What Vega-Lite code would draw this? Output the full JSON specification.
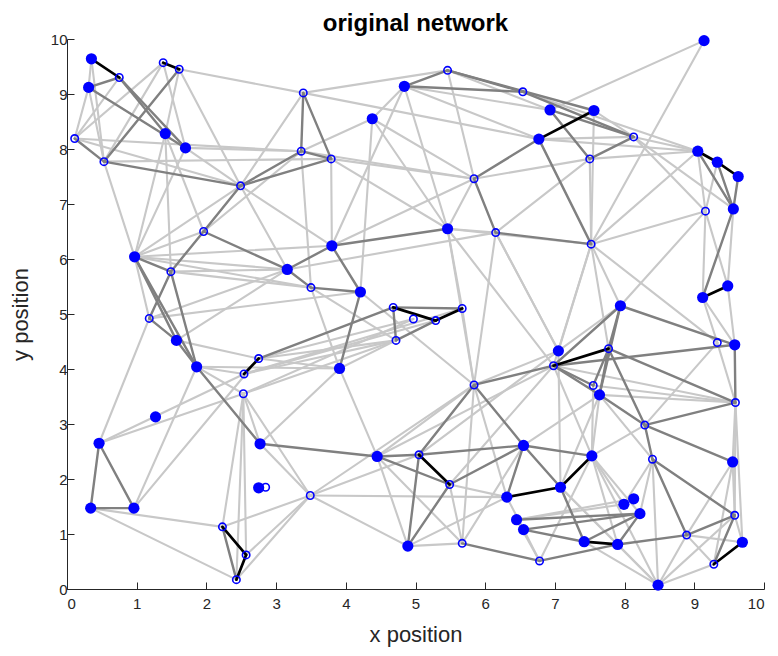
{
  "$schema": "https://vega.github.io/schema/vega-lite/v6.json",
  "width": 697,
  "height": 550,
  "autosize": "none",
  "padding": {"left": 67, "top": 39, "right": 14, "bottom": 67},
  "background": "white",
  "title": {"text": "original network", "fontSize": 24, "fontWeight": "bold", "font": "Liberation Sans", "color": "#000000", "anchor": "middle", "offset": -4},
  "config": {
    "view": {"stroke": null},
    "axis": {
      "grid": false,
      "domainColor": "#262626",
      "tickColor": "#262626",
      "labelColor": "#262626",
      "titleColor": "#262626",
      "labelFont": "Liberation Sans",
      "titleFont": "Liberation Sans",
      "labelFontSize": 15,
      "titleFontSize": 22,
      "titleFontWeight": "normal",
      "tickSize": -7,
      "domainWidth": 1,
      "tickWidth": 1,
      "format": "d"
    }
  },
  "datasets": {
    "nodes": [
      {"id":1,"x":0.35,"y":9.64,"f":1},{"id":2,"x":0.75,"y":9.30,"f":0},{"id":3,"x":0.31,"y":9.12,"f":1},
      {"id":4,"x":1.38,"y":9.57,"f":0},{"id":5,"x":1.61,"y":9.45,"f":0},{"id":6,"x":1.41,"y":8.28,"f":1},
      {"id":7,"x":1.70,"y":8.02,"f":1},{"id":8,"x":0.11,"y":8.19,"f":0},{"id":9,"x":0.53,"y":7.77,"f":0},
      {"id":10,"x":2.49,"y":7.33,"f":0},{"id":11,"x":3.39,"y":9.02,"f":0},{"id":12,"x":3.36,"y":7.96,"f":0},
      {"id":13,"x":3.79,"y":7.82,"f":0},{"id":14,"x":4.38,"y":8.55,"f":1},{"id":15,"x":4.84,"y":9.14,"f":1},
      {"id":16,"x":5.46,"y":9.43,"f":0},{"id":17,"x":6.54,"y":9.04,"f":0},{"id":18,"x":6.93,"y":8.71,"f":1},
      {"id":19,"x":7.56,"y":8.70,"f":1},{"id":20,"x":6.77,"y":8.18,"f":1},{"id":21,"x":8.13,"y":8.22,"f":0},
      {"id":22,"x":7.50,"y":7.82,"f":0},{"id":23,"x":9.14,"y":9.97,"f":1},{"id":24,"x":9.05,"y":7.96,"f":1},
      {"id":25,"x":9.33,"y":7.76,"f":1},{"id":26,"x":9.63,"y":7.50,"f":1},{"id":27,"x":9.16,"y":6.87,"f":0},
      {"id":28,"x":9.56,"y":6.91,"f":1},{"id":29,"x":5.84,"y":7.46,"f":0},{"id":30,"x":1.96,"y":6.50,"f":0},
      {"id":31,"x":0.97,"y":6.04,"f":1},{"id":32,"x":1.49,"y":5.77,"f":0},{"id":33,"x":1.18,"y":4.92,"f":0},
      {"id":34,"x":1.57,"y":4.52,"f":1},{"id":35,"x":1.86,"y":4.04,"f":1},{"id":36,"x":3.16,"y":5.81,"f":1},
      {"id":37,"x":3.50,"y":5.48,"f":0},{"id":38,"x":3.80,"y":6.24,"f":1},{"id":39,"x":4.21,"y":5.40,"f":1},
      {"id":40,"x":5.46,"y":6.55,"f":1},{"id":41,"x":6.15,"y":6.48,"f":0},{"id":42,"x":7.52,"y":6.27,"f":0},
      {"id":43,"x":4.68,"y":5.12,"f":0},{"id":44,"x":4.97,"y":4.91,"f":0},{"id":45,"x":5.29,"y":4.88,"f":0},
      {"id":46,"x":5.67,"y":5.10,"f":0},{"id":47,"x":4.72,"y":4.52,"f":0},{"id":48,"x":2.75,"y":4.19,"f":0},
      {"id":49,"x":2.54,"y":3.91,"f":0},{"id":50,"x":2.53,"y":3.55,"f":0},{"id":51,"x":3.91,"y":4.01,"f":1},
      {"id":52,"x":9.12,"y":5.30,"f":1},{"id":53,"x":9.48,"y":5.51,"f":1},{"id":54,"x":7.94,"y":5.15,"f":1},
      {"id":55,"x":7.05,"y":4.33,"f":1},{"id":56,"x":7.77,"y":4.37,"f":0},{"id":57,"x":6.98,"y":4.06,"f":0},
      {"id":58,"x":9.33,"y":4.48,"f":0},{"id":59,"x":9.58,"y":4.44,"f":1},{"id":60,"x":5.84,"y":3.71,"f":0},
      {"id":61,"x":7.55,"y":3.70,"f":0},{"id":62,"x":7.64,"y":3.53,"f":1},{"id":63,"x":9.59,"y":3.39,"f":0},
      {"id":64,"x":8.29,"y":2.98,"f":0},{"id":65,"x":0.46,"y":2.65,"f":1},{"id":66,"x":1.27,"y":3.13,"f":1},
      {"id":67,"x":2.77,"y":2.64,"f":1},{"id":68,"x":2.75,"y":1.84,"f":1},{"id":69,"x":2.85,"y":1.85,"f":0},
      {"id":70,"x":0.34,"y":1.47,"f":1},{"id":71,"x":0.96,"y":1.47,"f":1},{"id":72,"x":2.23,"y":1.13,"f":0},
      {"id":73,"x":2.57,"y":0.62,"f":0},{"id":74,"x":2.43,"y":0.17,"f":0},{"id":75,"x":4.45,"y":2.41,"f":1},
      {"id":76,"x":5.05,"y":2.44,"f":0},{"id":77,"x":5.49,"y":1.90,"f":0},{"id":78,"x":3.49,"y":1.70,"f":0},
      {"id":79,"x":4.89,"y":0.78,"f":1},{"id":80,"x":5.67,"y":0.83,"f":0},{"id":81,"x":6.55,"y":2.61,"f":1},
      {"id":82,"x":6.31,"y":1.67,"f":1},{"id":83,"x":6.45,"y":1.26,"f":1},{"id":84,"x":6.55,"y":1.08,"f":1},
      {"id":85,"x":7.53,"y":2.42,"f":1},{"id":86,"x":8.40,"y":2.36,"f":0},{"id":87,"x":9.55,"y":2.31,"f":1},
      {"id":88,"x":7.08,"y":1.85,"f":1},{"id":89,"x":8.13,"y":1.64,"f":1},{"id":90,"x":7.99,"y":1.54,"f":1},
      {"id":91,"x":8.22,"y":1.37,"f":1},{"id":92,"x":9.58,"y":1.34,"f":0},{"id":93,"x":9.69,"y":0.85,"f":1},
      {"id":94,"x":7.42,"y":0.86,"f":1},{"id":95,"x":7.90,"y":0.81,"f":1},{"id":96,"x":8.89,"y":0.98,"f":0},
      {"id":97,"x":9.28,"y":0.45,"f":0},{"id":98,"x":6.78,"y":0.51,"f":0},{"id":99,"x":8.48,"y":0.07,"f":1}
    ],
    "edges": [
      {"s":1,"t":3,"w":"l"},{"s":3,"t":8,"w":"l"},{"s":2,"t":8,"w":"l"},{"s":4,"t":8,"w":"l"},{"s":4,"t":9,"w":"l"},
      {"s":3,"t":9,"w":"l"},{"s":5,"t":6,"w":"l"},{"s":5,"t":10,"w":"l"},{"s":5,"t":11,"w":"l"},{"s":8,"t":12,"w":"l"},
      {"s":8,"t":10,"w":"l"},{"s":9,"t":13,"w":"l"},{"s":7,"t":12,"w":"l"},{"s":7,"t":10,"w":"l"},{"s":9,"t":31,"w":"l"},
      {"s":6,"t":31,"w":"l"},{"s":7,"t":31,"w":"l"},{"s":6,"t":32,"w":"l"},{"s":6,"t":30,"w":"l"},{"s":4,"t":7,"w":"l"},
      {"s":1,"t":9,"w":"l"},{"s":11,"t":16,"w":"l"},{"s":11,"t":20,"w":"l"},{"s":11,"t":10,"w":"l"},{"s":14,"t":15,"w":"l"},
      {"s":14,"t":12,"w":"l"},{"s":14,"t":39,"w":"l"},{"s":15,"t":38,"w":"l"},{"s":15,"t":40,"w":"l"},{"s":15,"t":18,"w":"l"},
      {"s":15,"t":20,"w":"l"},{"s":14,"t":29,"w":"l"},{"s":12,"t":29,"w":"l"},{"s":13,"t":29,"w":"l"},{"s":16,"t":29,"w":"l"},
      {"s":16,"t":18,"w":"l"},{"s":29,"t":40,"w":"l"},{"s":29,"t":38,"w":"l"},{"s":29,"t":22,"w":"l"},{"s":13,"t":38,"w":"l"},
      {"s":12,"t":37,"w":"l"},{"s":10,"t":36,"w":"l"},{"s":10,"t":38,"w":"l"},{"s":10,"t":31,"w":"l"},{"s":30,"t":31,"w":"l"},
      {"s":30,"t":12,"w":"l"},{"s":40,"t":13,"w":"l"},{"s":40,"t":14,"w":"l"},
      {"s":23,"t":18,"w":"l"},{"s":23,"t":42,"w":"l"},{"s":24,"t":21,"w":"l"},{"s":24,"t":22,"w":"l"},{"s":24,"t":27,"w":"l"},
      {"s":25,"t":27,"w":"l"},{"s":24,"t":42,"w":"l"},{"s":21,"t":27,"w":"l"},{"s":21,"t":28,"w":"l"},{"s":22,"t":42,"w":"l"},
      {"s":19,"t":42,"w":"l"},{"s":20,"t":21,"w":"l"},{"s":20,"t":24,"w":"l"},{"s":17,"t":24,"w":"l"},{"s":22,"t":41,"w":"l"},
      {"s":27,"t":52,"w":"l"},{"s":53,"t":27,"w":"l"},{"s":53,"t":28,"w":"l"},{"s":19,"t":21,"w":"l"},
      {"s":31,"t":38,"w":"l"},{"s":31,"t":37,"w":"l"},{"s":31,"t":36,"w":"l"},{"s":32,"t":36,"w":"l"},{"s":32,"t":37,"w":"l"},
      {"s":33,"t":39,"w":"l"},{"s":33,"t":36,"w":"l"},{"s":34,"t":36,"w":"l"},{"s":35,"t":51,"w":"l"},{"s":34,"t":48,"w":"l"},
      {"s":35,"t":50,"w":"l"},{"s":35,"t":49,"w":"l"},{"s":33,"t":65,"w":"l"},{"s":31,"t":33,"w":"l"},
      {"s":36,"t":41,"w":"l"},{"s":39,"t":60,"w":"l"},{"s":37,"t":47,"w":"l"},{"s":47,"t":48,"w":"l"},{"s":47,"t":49,"w":"l"},
      {"s":47,"t":50,"w":"l"},{"s":49,"t":46,"w":"l"},{"s":49,"t":45,"w":"l"},{"s":48,"t":51,"w":"l"},{"s":51,"t":37,"w":"l"},
      {"s":40,"t":41,"w":"l"},{"s":40,"t":60,"w":"l"},{"s":41,"t":60,"w":"l"},{"s":40,"t":57,"w":"l"},{"s":41,"t":55,"w":"l"},
      {"s":40,"t":42,"w":"l"},{"s":40,"t":46,"w":"l"},{"s":46,"t":60,"w":"l"},{"s":51,"t":47,"w":"l"},{"s":48,"t":44,"w":"l"},
      {"s":50,"t":44,"w":"l"},
      {"s":54,"t":27,"w":"l"},{"s":42,"t":54,"w":"l"},{"s":42,"t":55,"w":"l"},{"s":42,"t":56,"w":"l"},{"s":42,"t":57,"w":"l"},
      {"s":42,"t":27,"w":"l"},{"s":42,"t":58,"w":"l"},{"s":52,"t":59,"w":"l"},{"s":53,"t":59,"w":"l"},{"s":58,"t":63,"w":"l"},
      {"s":58,"t":64,"w":"l"},{"s":58,"t":52,"w":"l"},{"s":63,"t":61,"w":"l"},{"s":63,"t":62,"w":"l"},{"s":63,"t":57,"w":"l"},
      {"s":55,"t":54,"w":"l"},{"s":55,"t":41,"w":"l"},
      {"s":65,"t":49,"w":"l"},{"s":65,"t":50,"w":"l"},{"s":71,"t":35,"w":"l"},{"s":71,"t":48,"w":"l"},{"s":70,"t":72,"w":"l"},
      {"s":70,"t":74,"w":"l"},{"s":72,"t":50,"w":"l"},{"s":72,"t":78,"w":"l"},{"s":74,"t":50,"w":"l"},{"s":73,"t":50,"w":"l"},
      {"s":74,"t":78,"w":"l"},{"s":73,"t":78,"w":"l"},{"s":50,"t":67,"w":"l"},{"s":50,"t":78,"w":"l"},{"s":67,"t":51,"w":"l"},
      {"s":67,"t":78,"w":"l"},
      {"s":78,"t":82,"w":"l"},{"s":78,"t":79,"w":"l"},{"s":78,"t":76,"w":"l"},{"s":78,"t":60,"w":"l"},{"s":51,"t":75,"w":"l"},
      {"s":75,"t":79,"w":"l"},{"s":75,"t":80,"w":"l"},{"s":75,"t":60,"w":"l"},{"s":79,"t":80,"w":"l"},{"s":79,"t":82,"w":"l"},
      {"s":77,"t":82,"w":"l"},{"s":77,"t":80,"w":"l"},{"s":60,"t":82,"w":"l"},{"s":60,"t":80,"w":"l"},{"s":80,"t":81,"w":"l"},
      {"s":75,"t":57,"w":"l"},{"s":76,"t":55,"w":"l"},{"s":77,"t":57,"w":"l"},{"s":60,"t":55,"w":"l"},
      {"s":85,"t":62,"w":"l"},{"s":85,"t":95,"w":"l"},{"s":85,"t":99,"w":"l"},{"s":85,"t":64,"w":"l"},{"s":86,"t":90,"w":"l"},
      {"s":88,"t":95,"w":"l"},{"s":88,"t":99,"w":"l"},{"s":99,"t":96,"w":"l"},{"s":99,"t":92,"w":"l"},{"s":99,"t":97,"w":"l"},
      {"s":99,"t":86,"w":"l"},{"s":99,"t":95,"w":"l"},{"s":99,"t":94,"w":"l"},{"s":96,"t":97,"w":"l"},{"s":96,"t":93,"w":"l"},
      {"s":96,"t":87,"w":"l"},{"s":87,"t":92,"w":"l"},{"s":63,"t":92,"w":"l"},{"s":63,"t":93,"w":"l"},{"s":63,"t":87,"w":"l"},
      {"s":87,"t":97,"w":"l"},{"s":92,"t":93,"w":"l"},{"s":98,"t":85,"w":"l"},{"s":98,"t":83,"w":"l"},{"s":98,"t":84,"w":"l"},
      {"s":62,"t":86,"w":"l"},{"s":83,"t":90,"w":"l"},{"s":82,"t":84,"w":"l"},{"s":61,"t":85,"w":"l"},{"s":62,"t":88,"w":"l"},
      {"s":81,"t":62,"w":"l"},{"s":89,"t":83,"w":"l"},{"s":90,"t":85,"w":"l"},{"s":91,"t":85,"w":"l"},{"s":86,"t":91,"w":"l"},
      {"s":57,"t":85,"w":"l"},{"s":55,"t":88,"w":"l"},
      {"s":2,"t":3,"w":"d"},{"s":2,"t":6,"w":"d"},{"s":2,"t":7,"w":"d"},{"s":3,"t":7,"w":"d"},{"s":8,"t":9,"w":"d"},
      {"s":9,"t":10,"w":"d"},{"s":9,"t":5,"w":"d"},{"s":10,"t":12,"w":"d"},{"s":10,"t":13,"w":"d"},{"s":10,"t":30,"w":"d"},
      {"s":11,"t":12,"w":"d"},{"s":11,"t":13,"w":"d"},{"s":12,"t":13,"w":"d"},{"s":15,"t":16,"w":"d"},{"s":15,"t":17,"w":"d"},
      {"s":16,"t":17,"w":"d"},{"s":16,"t":19,"w":"d"},{"s":17,"t":21,"w":"d"},{"s":18,"t":21,"w":"d"},{"s":29,"t":41,"w":"d"},
      {"s":29,"t":20,"w":"d"},{"s":20,"t":42,"w":"d"},{"s":22,"t":21,"w":"d"},{"s":18,"t":22,"w":"d"},{"s":24,"t":28,"w":"d"},
      {"s":25,"t":28,"w":"d"},{"s":26,"t":28,"w":"d"},{"s":28,"t":52,"w":"d"},{"s":30,"t":32,"w":"d"},{"s":30,"t":36,"w":"d"},
      {"s":31,"t":32,"w":"d"},{"s":31,"t":34,"w":"d"},{"s":31,"t":35,"w":"d"},{"s":32,"t":35,"w":"d"},{"s":32,"t":33,"w":"d"},
      {"s":33,"t":34,"w":"d"},{"s":34,"t":35,"w":"d"},{"s":35,"t":67,"w":"d"},{"s":36,"t":38,"w":"d"},{"s":38,"t":40,"w":"d"},
      {"s":38,"t":39,"w":"d"},{"s":37,"t":39,"w":"d"},{"s":39,"t":51,"w":"d"},{"s":36,"t":37,"w":"d"},{"s":43,"t":47,"w":"d"},
      {"s":47,"t":45,"w":"d"},{"s":43,"t":48,"w":"d"},{"s":43,"t":46,"w":"d"},{"s":41,"t":42,"w":"d"},{"s":54,"t":56,"w":"d"},
      {"s":54,"t":57,"w":"d"},{"s":54,"t":59,"w":"d"},{"s":57,"t":59,"w":"d"},{"s":59,"t":63,"w":"d"},{"s":56,"t":62,"w":"d"},
      {"s":56,"t":61,"w":"d"},{"s":56,"t":64,"w":"d"},{"s":56,"t":63,"w":"d"},{"s":57,"t":62,"w":"d"},{"s":54,"t":62,"w":"d"},
      {"s":57,"t":61,"w":"d"},{"s":60,"t":57,"w":"d"},{"s":62,"t":64,"w":"d"},{"s":64,"t":63,"w":"d"},{"s":64,"t":87,"w":"d"},
      {"s":64,"t":86,"w":"d"},{"s":86,"t":92,"w":"d"},{"s":86,"t":96,"w":"d"},{"s":92,"t":96,"w":"d"},{"s":92,"t":97,"w":"d"},
      {"s":81,"t":85,"w":"d"},{"s":81,"t":88,"w":"d"},{"s":88,"t":94,"w":"d"},{"s":84,"t":91,"w":"d"},{"s":83,"t":91,"w":"d"},
      {"s":84,"t":94,"w":"d"},{"s":94,"t":91,"w":"d"},{"s":95,"t":91,"w":"d"},{"s":95,"t":96,"w":"d"},{"s":98,"t":95,"w":"d"},
      {"s":80,"t":98,"w":"d"},{"s":75,"t":76,"w":"d"},{"s":76,"t":81,"w":"d"},{"s":75,"t":77,"w":"d"},{"s":67,"t":75,"w":"d"},
      {"s":76,"t":79,"w":"d"},{"s":77,"t":79,"w":"d"},{"s":77,"t":81,"w":"d"},{"s":76,"t":60,"w":"d"},{"s":60,"t":81,"w":"d"},
      {"s":81,"t":82,"w":"d"},{"s":65,"t":70,"w":"d"},{"s":65,"t":71,"w":"d"},{"s":70,"t":71,"w":"d"},{"s":72,"t":74,"w":"d"},
      {"s":1,"t":2,"w":"b"},{"s":4,"t":5,"w":"b"},{"s":20,"t":19,"w":"b"},{"s":24,"t":25,"w":"b"},{"s":25,"t":26,"w":"b"},
      {"s":52,"t":53,"w":"b"},{"s":57,"t":56,"w":"b"},{"s":48,"t":49,"w":"b"},{"s":43,"t":45,"w":"b"},{"s":45,"t":46,"w":"b"},
      {"s":76,"t":77,"w":"b"},{"s":72,"t":73,"w":"b"},{"s":73,"t":74,"w":"b"},{"s":82,"t":88,"w":"b"},{"s":88,"t":85,"w":"b"},
      {"s":94,"t":95,"w":"b"},{"s":97,"t":93,"w":"b"}
    ]
  },
  "layer": [
    {
      "data": {"name": "edges"},
      "transform": [
        {"lookup": "s", "from": {"data": {"name": "nodes"}, "key": "id", "fields": ["x", "y"]}, "as": ["x1", "y1"]},
        {"lookup": "t", "from": {"data": {"name": "nodes"}, "key": "id", "fields": ["x", "y"]}, "as": ["x2", "y2"]}
      ],
      "mark": {"type": "rule", "strokeCap": "round"},
      "encoding": {
        "x": {"field": "x1", "type": "quantitative", "scale": {"domain": [0, 10], "nice": false, "zero": false},
              "axis": {"title": "x position", "values": [0,1,2,3,4,5,6,7,8,9,10], "labelPadding": 14, "titlePadding": 13}},
        "y": {"field": "y1", "type": "quantitative", "scale": {"domain": [0, 10], "nice": false, "zero": false},
              "axis": {"title": "y position", "values": [0,1,2,3,4,5,6,7,8,9,10], "labelPadding": 7, "titlePadding": 18}},
        "x2": {"field": "x2"},
        "y2": {"field": "y2"},
        "color": {"field": "w", "type": "nominal", "scale": {"domain": ["l", "d", "b"], "range": ["#c8c8c8", "#808080", "#000000"]}, "legend": null},
        "strokeWidth": {"field": "w", "type": "nominal", "scale": {"domain": ["l", "d", "b"], "range": [2.1, 2.7, 3.6]}, "legend": null}
      }
    },
    {
      "data": {"name": "nodes"},
      "transform": [{"filter": "datum.f == 0"}],
      "mark": {"type": "point", "shape": "circle", "filled": false, "size": 55, "strokeWidth": 1.6, "color": "#0000ff", "opacity": 1},
      "encoding": {
        "x": {"field": "x", "type": "quantitative"},
        "y": {"field": "y", "type": "quantitative"}
      }
    },
    {
      "data": {"name": "nodes"},
      "transform": [{"filter": "datum.f == 1"}],
      "mark": {"type": "circle", "size": 125, "color": "#0000ff", "opacity": 1},
      "encoding": {
        "x": {"field": "x", "type": "quantitative"},
        "y": {"field": "y", "type": "quantitative"}
      }
    }
  ]
}
